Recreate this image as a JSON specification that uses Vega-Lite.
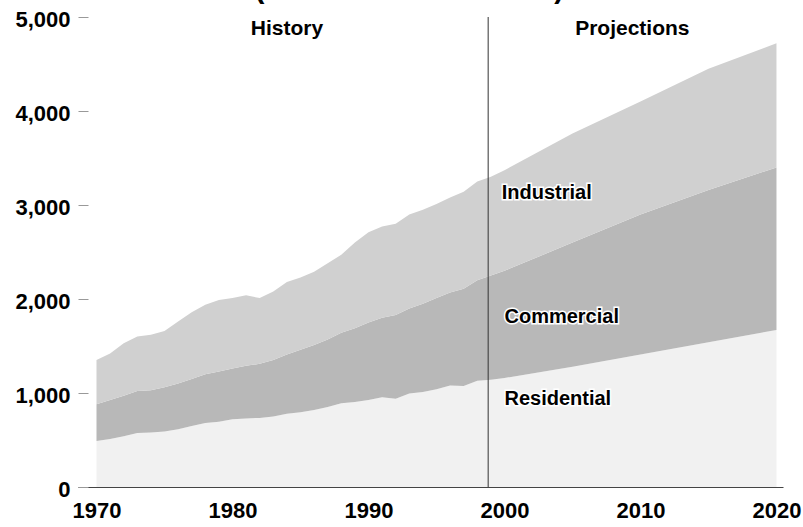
{
  "$schema": "https://vega.github.io/schema/vega-lite/v6.json",
  "width": 705,
  "height": 470,
  "autosize": {"type": "none"},
  "padding": {"left": 78, "top": 17, "right": 20, "bottom": 40},
  "background": "white",
  "config": {"view": {"stroke": null}, "font": "Liberation Sans"},
  "datasets": {
    "sales": [
      {"year":1970,"sector":"Residential","layer":1,"value":490},{"year":1970,"sector":"Commercial","layer":2,"value":390},{"year":1970,"sector":"Industrial","layer":3,"value":470},
      {"year":1971,"sector":"Residential","layer":1,"value":510},{"year":1971,"sector":"Commercial","layer":2,"value":415},{"year":1971,"sector":"Industrial","layer":3,"value":495},
      {"year":1972,"sector":"Residential","layer":1,"value":540},{"year":1972,"sector":"Commercial","layer":2,"value":430},{"year":1972,"sector":"Industrial","layer":3,"value":560},
      {"year":1973,"sector":"Residential","layer":1,"value":575},{"year":1973,"sector":"Commercial","layer":2,"value":445},{"year":1973,"sector":"Industrial","layer":3,"value":580},
      {"year":1974,"sector":"Residential","layer":1,"value":580},{"year":1974,"sector":"Commercial","layer":2,"value":450},{"year":1974,"sector":"Industrial","layer":3,"value":590},
      {"year":1975,"sector":"Residential","layer":1,"value":590},{"year":1975,"sector":"Commercial","layer":2,"value":470},{"year":1975,"sector":"Industrial","layer":3,"value":600},
      {"year":1976,"sector":"Residential","layer":1,"value":615},{"year":1976,"sector":"Commercial","layer":2,"value":485},{"year":1976,"sector":"Industrial","layer":3,"value":660},
      {"year":1977,"sector":"Residential","layer":1,"value":650},{"year":1977,"sector":"Commercial","layer":2,"value":500},{"year":1977,"sector":"Industrial","layer":3,"value":710},
      {"year":1978,"sector":"Residential","layer":1,"value":680},{"year":1978,"sector":"Commercial","layer":2,"value":520},{"year":1978,"sector":"Industrial","layer":3,"value":740},
      {"year":1979,"sector":"Residential","layer":1,"value":695},{"year":1979,"sector":"Commercial","layer":2,"value":535},{"year":1979,"sector":"Industrial","layer":3,"value":760},
      {"year":1980,"sector":"Residential","layer":1,"value":720},{"year":1980,"sector":"Commercial","layer":2,"value":540},{"year":1980,"sector":"Industrial","layer":3,"value":750},
      {"year":1981,"sector":"Residential","layer":1,"value":730},{"year":1981,"sector":"Commercial","layer":2,"value":560},{"year":1981,"sector":"Industrial","layer":3,"value":750},
      {"year":1982,"sector":"Residential","layer":1,"value":735},{"year":1982,"sector":"Commercial","layer":2,"value":575},{"year":1982,"sector":"Industrial","layer":3,"value":700},
      {"year":1983,"sector":"Residential","layer":1,"value":750},{"year":1983,"sector":"Commercial","layer":2,"value":600},{"year":1983,"sector":"Industrial","layer":3,"value":730},
      {"year":1984,"sector":"Residential","layer":1,"value":780},{"year":1984,"sector":"Commercial","layer":2,"value":630},{"year":1984,"sector":"Industrial","layer":3,"value":770},
      {"year":1985,"sector":"Residential","layer":1,"value":795},{"year":1985,"sector":"Commercial","layer":2,"value":665},{"year":1985,"sector":"Industrial","layer":3,"value":770},
      {"year":1986,"sector":"Residential","layer":1,"value":820},{"year":1986,"sector":"Commercial","layer":2,"value":690},{"year":1986,"sector":"Industrial","layer":3,"value":780},
      {"year":1987,"sector":"Residential","layer":1,"value":850},{"year":1987,"sector":"Commercial","layer":2,"value":720},{"year":1987,"sector":"Industrial","layer":3,"value":810},
      {"year":1988,"sector":"Residential","layer":1,"value":890},{"year":1988,"sector":"Commercial","layer":2,"value":750},{"year":1988,"sector":"Industrial","layer":3,"value":830},
      {"year":1989,"sector":"Residential","layer":1,"value":905},{"year":1989,"sector":"Commercial","layer":2,"value":785},{"year":1989,"sector":"Industrial","layer":3,"value":910},
      {"year":1990,"sector":"Residential","layer":1,"value":925},{"year":1990,"sector":"Commercial","layer":2,"value":825},{"year":1990,"sector":"Industrial","layer":3,"value":960},
      {"year":1991,"sector":"Residential","layer":1,"value":955},{"year":1991,"sector":"Commercial","layer":2,"value":845},{"year":1991,"sector":"Industrial","layer":3,"value":970},
      {"year":1992,"sector":"Residential","layer":1,"value":940},{"year":1992,"sector":"Commercial","layer":2,"value":890},{"year":1992,"sector":"Industrial","layer":3,"value":970},
      {"year":1993,"sector":"Residential","layer":1,"value":995},{"year":1993,"sector":"Commercial","layer":2,"value":905},{"year":1993,"sector":"Industrial","layer":3,"value":1000},
      {"year":1994,"sector":"Residential","layer":1,"value":1010},{"year":1994,"sector":"Commercial","layer":2,"value":940},{"year":1994,"sector":"Industrial","layer":3,"value":1000},
      {"year":1995,"sector":"Residential","layer":1,"value":1040},{"year":1995,"sector":"Commercial","layer":2,"value":970},{"year":1995,"sector":"Industrial","layer":3,"value":1000},
      {"year":1996,"sector":"Residential","layer":1,"value":1080},{"year":1996,"sector":"Commercial","layer":2,"value":990},{"year":1996,"sector":"Industrial","layer":3,"value":1010},
      {"year":1997,"sector":"Residential","layer":1,"value":1075},{"year":1997,"sector":"Commercial","layer":2,"value":1035},{"year":1997,"sector":"Industrial","layer":3,"value":1030},
      {"year":1998,"sector":"Residential","layer":1,"value":1130},{"year":1998,"sector":"Commercial","layer":2,"value":1070},{"year":1998,"sector":"Industrial","layer":3,"value":1050},
      {"year":1999,"sector":"Residential","layer":1,"value":1140},{"year":1999,"sector":"Commercial","layer":2,"value":1110},{"year":1999,"sector":"Industrial","layer":3,"value":1050},
      {"year":2000,"sector":"Residential","layer":1,"value":1160},{"year":2000,"sector":"Commercial","layer":2,"value":1140},{"year":2000,"sector":"Industrial","layer":3,"value":1070},
      {"year":2005,"sector":"Residential","layer":1,"value":1280},{"year":2005,"sector":"Commercial","layer":2,"value":1320},{"year":2005,"sector":"Industrial","layer":3,"value":1160},
      {"year":2010,"sector":"Residential","layer":1,"value":1410},{"year":2010,"sector":"Commercial","layer":2,"value":1490},{"year":2010,"sector":"Industrial","layer":3,"value":1200},
      {"year":2015,"sector":"Residential","layer":1,"value":1540},{"year":2015,"sector":"Commercial","layer":2,"value":1620},{"year":2015,"sector":"Industrial","layer":3,"value":1290},
      {"year":2020,"sector":"Residential","layer":1,"value":1670},{"year":2020,"sector":"Commercial","layer":2,"value":1730},{"year":2020,"sector":"Industrial","layer":3,"value":1320}
    ]
  },
  "layer": [
    {
      "data": {"name": "sales"},
      "mark": {"type": "area", "interpolate": "linear"},
      "encoding": {
        "x": {
          "field": "year", "type": "quantitative",
          "scale": {"domain": [1968.64, 2020.48], "nice": false, "zero": false},
          "axis": {
            "values": [1970, 1980, 1990, 2000, 2010, 2020], "format": "d", "title": null,
            "grid": false, "ticks": false, "domainColor": "#444444", "domainWidth": 1,
            "labelFont": "Liberation Sans", "labelFontWeight": "bold", "labelFontSize": 22,
            "labelColor": "#000000", "labelPadding": 13, "labelFlush": false, "labelOverlap": false
          }
        },
        "y": {
          "field": "value", "type": "quantitative", "stack": "zero",
          "scale": {"domain": [0, 5000], "nice": false},
          "axis": {
            "values": [0, 1000, 2000, 3000, 4000, 5000], "format": ",d", "title": null,
            "grid": false, "domain": false, "tickSize": 10, "tickColor": "#999999", "offset": -10,
            "labelFont": "Liberation Sans", "labelFontWeight": "bold", "labelFontSize": 22,
            "labelColor": "#000000", "labelPadding": 8, "labelOffset": 2, "labelOverlap": false
          }
        },
        "color": {
          "field": "sector", "type": "nominal",
          "scale": {"domain": ["Residential", "Commercial", "Industrial"], "range": ["#f1f1f1", "#b8b8b8", "#d0d0d0"]},
          "legend": null
        },
        "order": {"field": "layer", "type": "quantitative"}
      }
    },
    {
      "data": {"values": [{"year": 1998.8}]},
      "mark": {"type": "rule", "color": "#333333", "strokeWidth": 1},
      "encoding": {
        "x": {"field": "year", "type": "quantitative"},
        "y": {"datum": 0},
        "y2": {"datum": 5000}
      }
    },
    {
      "data": {"values": [{"label": "History", "year": 1984.0, "value": 4810}, {"label": "Projections", "year": 2009.4, "value": 4810}]},
      "mark": {"type": "text", "font": "Liberation Sans", "fontWeight": "bold", "fontSize": 21, "align": "center", "baseline": "alphabetic", "color": "#000000"},
      "encoding": {
        "x": {"field": "year", "type": "quantitative"},
        "y": {"field": "value", "type": "quantitative"},
        "text": {"field": "label"}
      }
    },
    {
      "data": {"values": [{"label": "(Billion Kilowatthours)", "year": 1993.0, "value": 5200}]},
      "mark": {"type": "text", "font": "Liberation Sans", "fontWeight": "bold", "fontSize": 29, "align": "center", "baseline": "alphabetic", "color": "#000000"},
      "encoding": {
        "x": {"field": "year", "type": "quantitative"},
        "y": {"field": "value", "type": "quantitative"},
        "text": {"field": "label"}
      }
    },
    {
      "data": {"values": [{"label": "Industrial", "year": 1999.8, "value": 3064}, {"label": "Commercial", "year": 2000.0, "value": 1745}, {"label": "Residential", "year": 2000.0, "value": 872}]},
      "mark": {"type": "text", "font": "Liberation Sans", "fontWeight": "bold", "fontSize": 20, "align": "left", "baseline": "alphabetic", "color": "#ffffff", "stroke": "#ffffff", "strokeWidth": 3},
      "encoding": {
        "x": {"field": "year", "type": "quantitative"},
        "y": {"field": "value", "type": "quantitative"},
        "text": {"field": "label"}
      }
    },
    {
      "data": {"values": [{"label": "Industrial", "year": 1999.8, "value": 3064}, {"label": "Commercial", "year": 2000.0, "value": 1745}, {"label": "Residential", "year": 2000.0, "value": 872}]},
      "mark": {"type": "text", "font": "Liberation Sans", "fontWeight": "bold", "fontSize": 20, "align": "left", "baseline": "alphabetic", "color": "#000000"},
      "encoding": {
        "x": {"field": "year", "type": "quantitative"},
        "y": {"field": "value", "type": "quantitative"},
        "text": {"field": "label"}
      }
    }
  ]
}
